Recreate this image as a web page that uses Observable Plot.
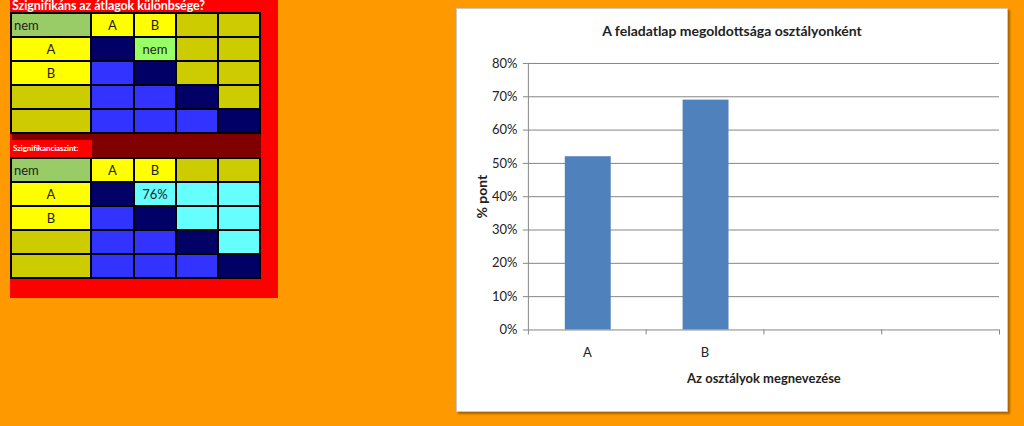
<!DOCTYPE html>
<html><head><meta charset="utf-8">
<script src="https://cdn.jsdelivr.net/npm/d3@7"></script>
<script src="https://cdn.jsdelivr.net/npm/@observablehq/plot@0.6"></script>
<style>
html,body{margin:0;padding:0;}
body{width:1024px;height:426px;background:#FF9900;position:relative;overflow:hidden;font-family:Lato,sans-serif;}
#redpanel{position:absolute;left:10px;top:0;width:268px;height:298px;background:#FF0000;}
#leftTitle{position:absolute;left:12px;top:0;font:bold 12.5px/11px Lato,sans-serif;color:#fff;white-space:nowrap;letter-spacing:-0.1px;}
.grid{position:absolute;left:10px;display:grid;grid-template-columns:78px 41px 40px 40px 40px;grid-auto-rows:22px;gap:2px;padding:2px;background:#000;}
.grid div{font:13px/22px Lato,sans-serif;color:#1e1e1e;text-align:center;overflow:hidden;white-space:nowrap;}
.grid div.hdr{text-align:left;padding-left:2px;}
#t1{top:12px;}
#t2{top:157px;}
#band{position:absolute;left:12px;top:134px;width:249px;height:23px;background:#800000;}
#sigLabel{position:absolute;left:12px;top:140px;width:80px;height:17px;background:#FF0000;color:#fff;font:bold 8px/17px Lato,sans-serif;letter-spacing:-0.1px;white-space:nowrap;overflow:hidden;padding-left:1px;box-sizing:border-box;}
#panel{position:absolute;left:456px;top:8px;width:552px;height:404px;background:#fff;border:1px solid #c8c8c8;box-shadow:2px 2px 2px rgba(0,0,0,0.35);box-sizing:border-box;}
#chartTitle{position:absolute;left:0;width:100%;top:14px;text-align:center;font:bold 14px/16px Lato,sans-serif;color:#222;}
#chart{position:absolute;left:-1px;top:31px;}
</style></head><body>
<div id="redpanel"></div>
<div id="t1" class="grid"></div>
<div id="leftTitle">Szignifikáns az átlagok különbsége?</div>
<div id="band"></div>
<div id="sigLabel">Szignifikanciaszint:</div>
<div id="t2" class="grid"></div>
<div id="panel"><div id="chartTitle"></div><div id="chart"></div></div>
<script>
// ---- data ----
const classLabels = ["A", "B", "", ""];
const scores = [0.52, 0.69, null, null];
const yTicks = [0, 0.1, 0.2, 0.3, 0.4, 0.5, 0.6, 0.7, 0.8];
const chartTitle = "A feladatlap megoldottsága osztályonként";
const xTitle = "Az osztályok megnevezése";
const yTitle = "% pont";

const table1Text = [
  ["nem", "A", "B", "", ""],
  ["A", "", "nem", "", ""],
  ["B", "", "", "", ""],
  ["", "", "", "", ""],
  ["", "", "", "", ""]
];
const table1Kind = [
  ["hdr", "lab", "lab", "pad", "pad"],
  ["lab", "diag", "no", "pad", "pad"],
  ["lab", "low", "diag", "pad", "pad"],
  ["pad", "low", "low", "diag", "pad"],
  ["pad", "low", "low", "low", "diag"]
];
const table2Text = [
  ["nem", "A", "B", "", ""],
  ["A", "", "76%", "", ""],
  ["B", "", "", "", ""],
  ["", "", "", "", ""],
  ["", "", "", "", ""]
];
const table2Kind = [
  ["hdr", "lab", "lab", "pad", "pad"],
  ["lab", "diag", "val", "val", "val"],
  ["lab", "low", "diag", "val", "val"],
  ["pad", "low", "low", "diag", "val"],
  ["pad", "low", "low", "low", "diag"]
];

// ---- styles ----
const kindColor = {hdr: "#99CC66", lab: "#FFFF00", pad: "#CCCC00", diag: "#000066", low: "#3333FF", no: "#99FF66", val: "#66FFFF"};

function buildTable(el, texts, kinds) {
  texts.forEach((row, r) => row.forEach((t, c) => {
    const d = document.createElement("div");
    d.textContent = t;
    d.style.background = kindColor[kinds[r][c]];
    if (kinds[r][c] === "hdr") d.className = "hdr";
    el.appendChild(d);
  }));
}
buildTable(document.getElementById("t1"), table1Text, table1Kind);
buildTable(document.getElementById("t2"), table2Text, table2Kind);
document.getElementById("chartTitle").textContent = chartTitle;

// ---- chart ----
const rows = classLabels.map((label, i) => ({idx: i, label, value: scores[i]}));
const idx = rows.map(d => d.idx);
const W = 552, H = 355, mL = 72, mR = 8, mT = 23, mB = 65;
const bw = (W - mL - mR) / classLabels.length;
const gray = "#868686";

const chart = Plot.plot({
  width: W, height: H,
  marginLeft: mL, marginRight: mR, marginTop: mT, marginBottom: mB,
  style: {fontFamily: "Lato, sans-serif", fontSize: "13px", background: "transparent", color: "#222"},
  x: {type: "band", domain: idx, padding: 0, round: false, label: null},
  y: {domain: [0, 0.8], label: null},
  marks: [
    Plot.gridY(yTicks, {stroke: gray, strokeOpacity: 1}),
    Plot.barY(rows.filter(d => d.value != null), {x: "idx", y: "value", fill: "#4F81BD", insetLeft: 37, insetRight: 35}),
    Plot.ruleX([idx[0]], {x: d => d, y1: 0, y2: 0.8, dx: -bw / 2, stroke: gray}),
    Plot.ruleX(idx, {x: d => d, y1: 0, y2: 0, dx: -bw / 2, insetBottom: -5, stroke: gray}),
    Plot.ruleX([idx[idx.length - 1]], {x: d => d, y1: 0, y2: 0, dx: bw / 2, insetBottom: -5, stroke: gray}),
    Plot.axisY({ticks: yTicks, tickFormat: d3.format(".0%"), tickSize: 5, tickPadding: 6, stroke: gray, label: null}),
    Plot.axisX({tickFormat: i => classLabels[i], tickSize: 0, tickPadding: 18, label: null}),
    Plot.text([xTitle], {text: d => d, frameAnchor: "bottom", dy: 53, fontWeight: "bold", fontSize: 13}),
    Plot.text([yTitle], {text: d => d, frameAnchor: "left", textAnchor: "middle", dx: -46, rotate: -90, fontWeight: "bold", fontSize: 14})
  ]
});
document.getElementById("chart").appendChild(chart);
</script>
</body></html>
